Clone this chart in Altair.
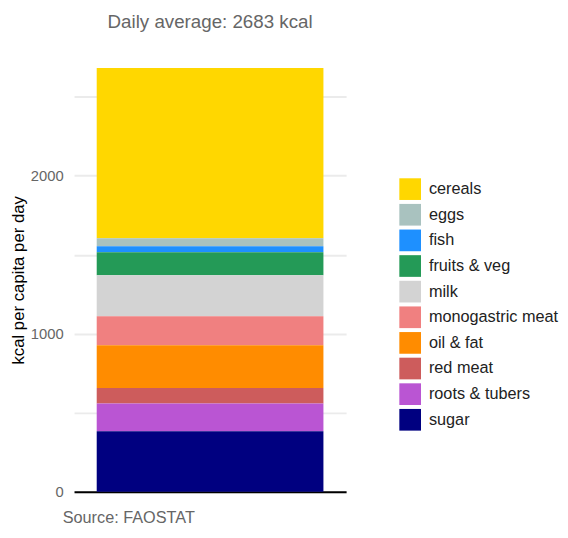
import altair as alt
import pandas as pd

categories = ["cereals", "eggs", "fish", "fruits & veg", "milk",
              "monogastric meat", "oil & fat", "red meat", "roots & tubers", "sugar"]
kcal = [1079, 50, 38, 146, 259, 184, 270, 99, 175, 383]
colors = ["#FFD700", "#A9C2BF", "#1E90FF", "#249A57", "#D3D3D3",
          "#F08080", "#FF8C00", "#CD5C5C", "#BA55D3", "#000080"]
title_text = "Daily average: 2683 kcal"
source_text = "Source: FAOSTAT"
y_title = "kcal per capita per day"
grid_values = [0, 500, 1000, 1500, 2000, 2500]

df = pd.DataFrame({"category": categories, "kcal": kcal, "bar": ["all"] * len(categories)})
total = sum(kcal)

FONT = "Liberation Sans"

chart = alt.Chart(df).mark_bar().encode(
    x=alt.X("bar:N",
            scale=alt.Scale(paddingInner=0, paddingOuter=0.1),
            axis=alt.Axis(labels=False, ticks=False, domainColor="black", domainWidth=2,
                          title=source_text, titleAnchor="start", titleAlign="left",
                          titleX=-12, titleY=31, titleFontSize=16.5, titleFontWeight="normal",
                          titleColor="#666666", titleBaseline="alphabetic")),
    y=alt.Y("kcal:Q", stack="zero",
            scale=alt.Scale(domain=[0, total], nice=False),
            axis=alt.Axis(values=grid_values, format="d",
                          labelExpr="datum.value % 1000 == 0 ? datum.label : ''",
                          ticks=False, domain=False, labelPadding=11, labelFontSize=15,
                          labelColor="#666666", gridColor="#EBEBEB", gridWidth=2,
                          title=y_title, titleFontSize=17, titleFontWeight="normal",
                          titleColor="black", titlePadding=3)),
    color=alt.Color("category:N",
                    scale=alt.Scale(domain=categories, range=colors),
                    legend=alt.Legend(title=None, orient="none", legendX=330, legendY=112,
                                      symbolType="square", symbolSize=484, symbolStrokeWidth=0,
                                      labelFontSize=16.5, labelColor="#222222", labelOffset=8,
                                      rowPadding=4)),
    order=alt.Order("category:N", sort="descending"),
).properties(
    width=276,
    height=430,
    autosize=alt.AutoSizeParams(type="none"),
    padding={"left": 67, "top": 57, "right": 217, "bottom": 31},
    title=alt.TitleParams(title_text, fontSize=19, fontWeight="normal", color="#666666",
                          anchor="middle", offset=36, font=FONT),
).configure(
    font=FONT,
).configure_view(
    stroke=None,
).configure_axis(
    labelFont=FONT, titleFont=FONT,
).configure_legend(
    labelFont=FONT,
)

chart.save("out.html", embed_options={"renderer": "svg", "actions": False})
